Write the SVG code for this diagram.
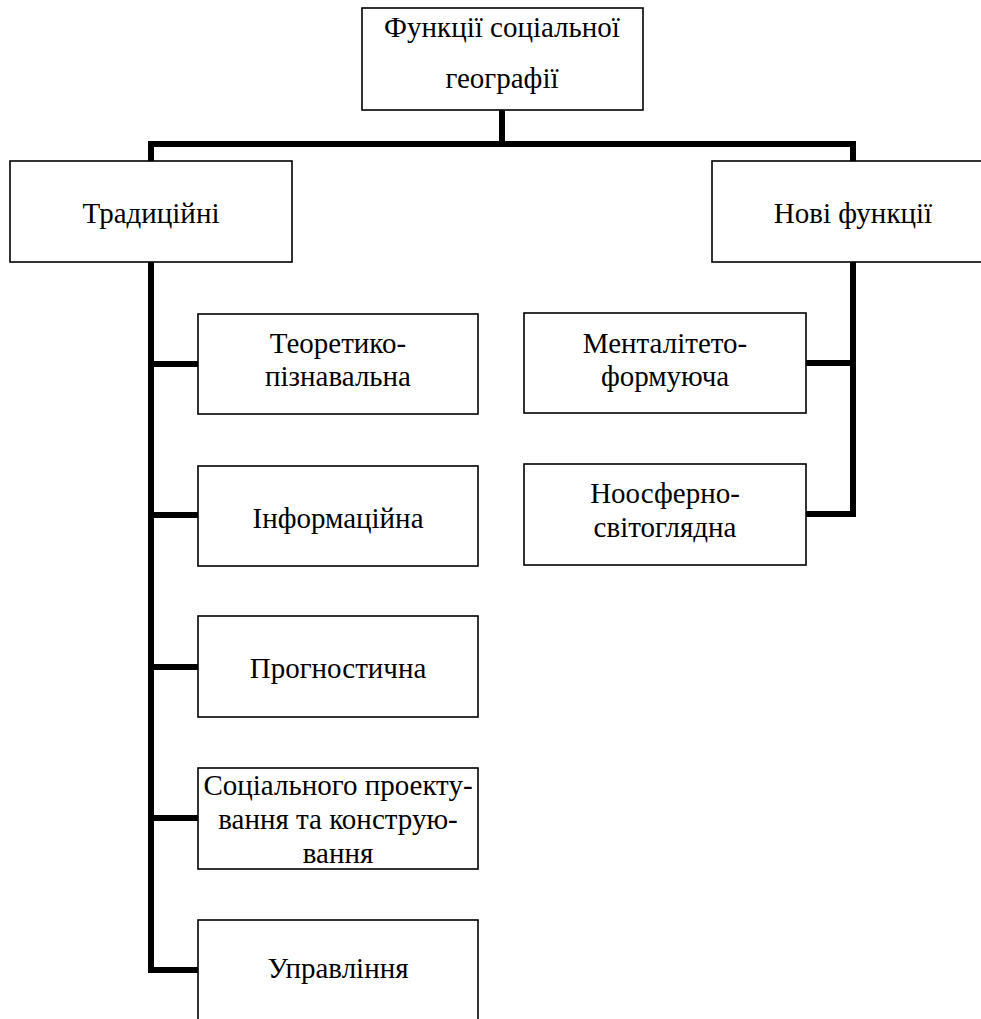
<svg xmlns="http://www.w3.org/2000/svg" width="981" height="1019" viewBox="0 0 981 1019">
<style>
.box{fill:#fff;stroke:#000;stroke-width:1.6}
.t{font-family:'Liberation Serif','DejaVu Serif',serif;font-size:29px;fill:#000;text-anchor:middle}
.c{fill:none;stroke:#000;stroke-width:6;stroke-linecap:square;stroke-linejoin:miter}
</style>
<rect width="981" height="1019" fill="#fff"/>
<g id="connectors">
<path class="c" d="M502,110 V144 M151,161 V144 H853 V161"/>
<path class="c" d="M151,262 V970 H198 M151,364 H198 M151,515 H198 M151,667 H198 M151,818 H198"/>
<path class="c" d="M853,262 V514 H806 M853,363 H806"/>
</g>
<g id="root">
<rect class="box" x="362" y="8" width="281" height="102"/>
<text class="t" x="502" y="37">Функції соціальної</text>
<text class="t" x="502" y="88">географії</text>
</g>
<g id="traditional">
<rect class="box" x="10" y="161" width="282" height="101"/>
<text class="t" x="151" y="223">Традиційні</text>
</g>
<g id="new">
<rect class="box" x="712" y="161" width="282" height="101"/>
<text class="t" x="853" y="223">Нові функції</text>
</g>
<g id="theoretical">
<rect class="box" x="198" y="314" width="280" height="100"/>
<text class="t" x="338" y="353">Теоретико-</text>
<text class="t" x="338" y="386">пізнавальна</text>
</g>
<g id="information">
<rect class="box" x="198" y="466" width="280" height="100"/>
<text class="t" x="338" y="528">Інформаційна</text>
</g>
<g id="prognostic">
<rect class="box" x="198" y="616" width="280" height="101"/>
<text class="t" x="338" y="678">Прогностична</text>
</g>
<g id="social">
<rect class="box" x="198" y="768" width="280" height="101"/>
<text class="t" x="338" y="795">Соціального проекту-</text>
<text class="t" x="338" y="829">вання та конструю-</text>
<text class="t" x="338" y="863">вання</text>
</g>
<g id="management">
<rect class="box" x="198" y="920" width="280" height="110"/>
<text class="t" x="338" y="978">Управління</text>
</g>
<g id="mentality">
<rect class="box" x="524" y="313" width="282" height="100"/>
<text class="t" x="665" y="353">Менталітето-</text>
<text class="t" x="665" y="386">формуюча</text>
</g>
<g id="noosphere">
<rect class="box" x="524" y="464" width="282" height="101"/>
<text class="t" x="665" y="503">Ноосферно-</text>
<text class="t" x="665" y="537">світоглядна</text>
</g>
</svg>
